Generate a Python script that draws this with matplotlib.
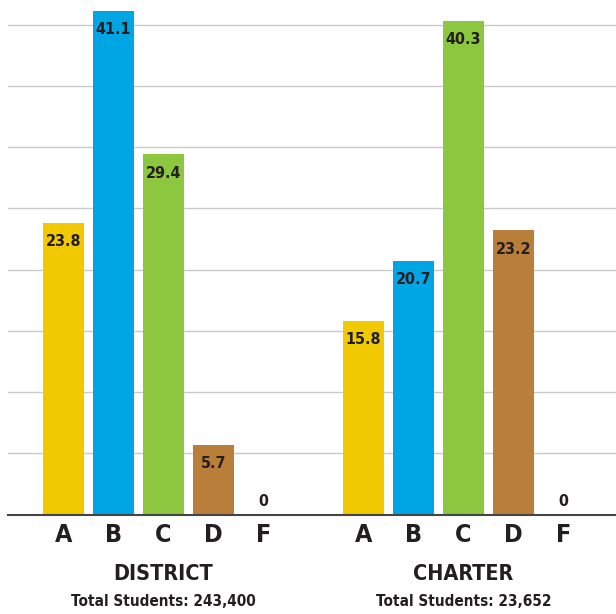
import matplotlib.pyplot as plt
import matplotlib.transforms as mtransforms

grades = ['A', 'B', 'C', 'D', 'F']
district = [23.8, 41.1, 29.4, 5.7, 0]
charter = [15.8, 20.7, 40.3, 23.2, 0]
groups = ['DISTRICT', 'CHARTER']
totals = ['Total Students: 243,400', 'Total Students: 23,652']
colors = ['#f0c900', '#00a5e3', '#8dc63f', '#b97f3a', '#ffffff']

plt.rcParams['font.family'] = ['DejaVu Sans']
plt.rcParams['font.stretch'] = 'condensed'
txt = '#231f20'

fig = plt.figure(figsize=(6.16, 6.14), dpi=100)
ax = fig.add_axes([8 / 616, (614 - 514.7) / 614, 1 - 8 / 616, 514.7 / 614])

xd = [0, 1, 2, 3, 4]
xc = [6, 7, 8, 9, 10]
ax.bar(xd, district, width=0.82, color=colors, zorder=2)
ax.bar(xc, charter, width=0.82, color=colors, zorder=2)

for xs, vals in [(xd, district), (xc, charter)]:
    for x, v in zip(xs, vals):
        if v > 3:
            ax.annotate(f'{v:g}', (x, v), xytext=(0, -8), textcoords='offset points',
                        ha='center', va='top', fontsize=11.5, fontweight='bold', color=txt, zorder=3)
        else:
            ax.annotate(f'{v:g}', (x, v), xytext=(0, 4), textcoords='offset points',
                        ha='center', va='bottom', fontsize=11.5, fontweight='bold', color=txt, zorder=3)

ax.set_xlim(-1.11, 11.05)
ax.set_ylim(0, 42)
ax.set_yticks([5, 10, 15, 20, 25, 30, 35, 40])
ax.yaxis.grid(True, color='#cacaca', linewidth=1.0, zorder=0)
ax.tick_params(axis='y', left=False, labelleft=False)
ax.set_xticks(xd + xc)
ax.set_xticklabels(grades + grades, fontsize=18, fontweight='bold', color=txt)
ax.tick_params(axis='x', length=0, pad=6)
for s in ['top', 'right', 'left']:
    ax.spines[s].set_visible(False)
ax.spines['bottom'].set_color('#444444')
ax.spines['bottom'].set_linewidth(1.5)
ax.spines['bottom'].set_zorder(4)

trans = mtransforms.blended_transform_factory(ax.transData, fig.transFigure)
for cx, g, t in zip([2, 8], groups, totals):
    fig.text(cx, 1 - 574 / 614, g, transform=trans, ha='center', va='center',
             fontsize=15.5, fontweight='bold', color=txt)
    fig.text(cx, 1 - 601 / 614, t, transform=trans, ha='center', va='center',
             fontsize=11, fontweight='bold', color=txt)

fig.savefig('out.png', dpi=100)
